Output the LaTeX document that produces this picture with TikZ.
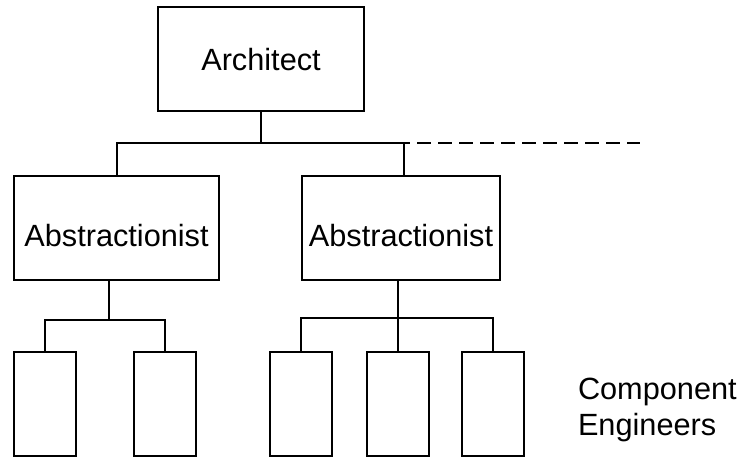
\documentclass[tikz,border=0pt]{standalone}
\usepackage{fontspec}
\setmainfont{Liberation Sans}
\usepackage{tikz}

\begin{document}
\begin{tikzpicture}[
        x=1pt, y=-1pt,
        line width=2pt,
        font=\fontsize{30.7pt}{36pt}\selectfont,
        lead/.style={draw, inner sep=0pt, minimum width=206pt, minimum height=104pt, text height=24pt, text depth=0pt},
        abst/.style={draw, inner sep=0pt, minimum height=104pt, text height=38pt, text depth=0pt},
        comp/.style={draw, inner sep=0pt, minimum width=62pt, minimum height=104pt}]

      \useasboundingbox (0,0) rectangle (744,457);

      \node[lead] (arch) at (261,59) {Architect};

      \node[abst, minimum width=205pt] (abs1) at (116.5,228) {Abstractionist};
      \node[abst, minimum width=198pt] (abs2) at (401,228) {Abstractionist};

      \foreach \n/\x in {c1/45, c2/165, c3/301, c4/397.5, c5/493}
        \node[comp] (\n) at (\x,404){};

      \node[anchor=north west, inner sep=0pt, align=left] (eng) at (577,377) {Component\\Engineers};

      \coordinate (tail) at (640,143);
      \draw (arch.south) -- (arch.south |- tail);
      \draw (abs1.north) -- (abs1.north |- tail) -- ([xshift=3pt]abs2.north |- tail) -- ([xshift=3pt]abs2.north);
      \draw[dash pattern=on 14pt off 7pt, dash phase=8pt] ([xshift=3pt]abs2.north |- tail) -- (tail);

      \draw ([xshift=-8pt]abs1.south) -- ++(0,39) coordinate (lbus);
      \draw (c1.north) |- (lbus) -| (c2.north);
      \draw (abs2.south -| c4.north) -- (c4.north);
      \draw (c3.north) -- ++(0,-33) -| (c5.north);

    \end{tikzpicture}
\end{document}
